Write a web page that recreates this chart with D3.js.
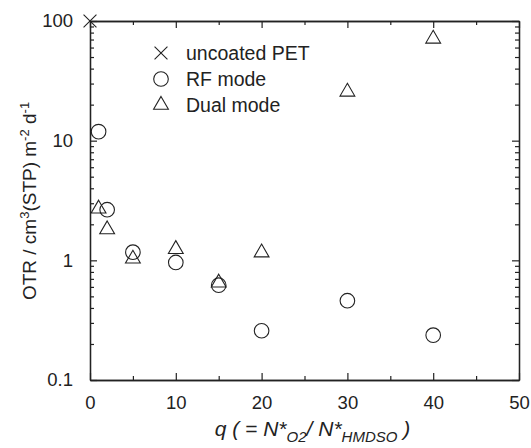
<!DOCTYPE html>
<html>
<head>
<meta charset="utf-8">
<script src="https://cdn.jsdelivr.net/npm/d3@7"></script>
<style>
  body { margin: 0; background: #fff; }
  svg text { font-family: "Liberation Sans", Arial, sans-serif; fill: #222; }
</style>
</head>
<body>
<div id="chart"></div>
<script>
// data
var petQ = [0];
var petOTR = [100];

var rfQ = [1, 2, 5, 10, 15, 20, 30, 40];
var rfOTR = [11.9, 2.65, 1.17, 0.96, 0.62, 0.258, 0.46, 0.237];

var dualQ = [1, 2, 5, 10, 15, 20, 30, 40];
var dualOTR = [2.7, 1.81, 1.03, 1.24, 0.65, 1.16, 25.6, 71];

var xTicks = [0, 10, 20, 30, 40, 50];
var yTicks = [0.1, 1, 10, 100];

var legendNames = ["uncoated PET", "RF mode", "Dual mode"];

var full_width = 531, full_height = 448;
var margin = {top: 21, right: 12, bottom: 68, left: 90};
var width = full_width - margin.left - margin.right;
var height = full_height - margin.top - margin.bottom;

var svg = d3.select("#chart").append("svg")
    .attr("width", full_width)
    .attr("height", full_height);

var g = svg.append("g")
    .attr("transform", "translate(" + margin.left + "," + margin.top + ")");

var x = d3.scaleLinear().domain([0, 50]).range([0, width]);
var y = d3.scaleLog().domain([0.1, 100]).range([height, 0]);

// minor ticks
var xMinor = d3.range(5, 50, 10);
var yMinor = [];
yTicks.slice(0, 3).forEach(function(d) {
  for (var k = 2; k <= 9; k++) yMinor.push(d * k);
});

var axisColor = "#222";

function drawAxis(axis, cls, transform) {
  var a = g.append("g").attr("class", cls).attr("transform", transform).call(axis);
  a.select(".domain").attr("stroke", axisColor).attr("stroke-width", 1.3);
  a.selectAll(".tick line").attr("stroke", axisColor).attr("stroke-width", 1.2);
  return a;
}

// bottom
var xb = drawAxis(d3.axisBottom(x).tickValues(xTicks).tickSize(-7).tickPadding(16).tickSizeOuter(0)
    .tickFormat(d3.format("d")), "x_axis", "translate(0," + height + ")");
xb.selectAll("text").attr("font-size", 18.5).attr("fill", "#222");
drawAxis(d3.axisBottom(x).tickValues(xMinor).tickSize(-4).tickFormat("").tickSizeOuter(0),
    "x_minor", "translate(0," + height + ")");

// top
drawAxis(d3.axisTop(x).tickValues(xTicks).tickSize(-7).tickFormat("").tickSizeOuter(0), "x_top", "");
drawAxis(d3.axisTop(x).tickValues(xMinor).tickSize(-4).tickFormat("").tickSizeOuter(0), "x_top_minor", "");

// left
var yl = drawAxis(d3.axisLeft(y).tickValues(yTicks).tickSize(-7).tickPadding(17).tickSizeOuter(0)
    .tickFormat(function(d) { return d; }), "y_axis", "");
yl.selectAll("text").attr("font-size", 18.5).attr("fill", "#222");
drawAxis(d3.axisLeft(y).tickValues(yMinor).tickSize(-4).tickFormat("").tickSizeOuter(0), "y_minor", "");

// right
drawAxis(d3.axisRight(y).tickValues(yTicks).tickSize(-7).tickFormat("").tickSizeOuter(0),
    "y_right", "translate(" + width + ",0)");
drawAxis(d3.axisRight(y).tickValues(yMinor).tickSize(-4).tickFormat("").tickSizeOuter(0),
    "y_right_minor", "translate(" + width + ",0)");

// markers
var cross = d3.symbol().type(d3.symbolX).size(110);
var tri = d3.symbol().type(d3.symbolTriangle).size(95);

function markers(sel, qs, vals, kind) {
  var data = qs.map(function(q, i) { return {q: q, v: vals[i]}; });
  var m = g.append("g").selectAll("." + kind).data(data).enter();
  if (kind === "circle") {
    m.append("circle")
      .attr("cx", function(d) { return x(d.q); })
      .attr("cy", function(d) { return y(d.v); })
      .attr("r", 7.3)
      .attr("fill", "none").attr("stroke", "#222").attr("stroke-width", 1.1);
  } else {
    m.append("path")
      .attr("d", kind === "cross" ? cross : tri)
      .attr("transform", function(d) { return "translate(" + x(d.q) + "," + y(d.v) + ")"; })
      .attr("fill", "none").attr("stroke", "#222").attr("stroke-width", 1.1);
  }
}

markers(g, dualQ, dualOTR, "tri");
markers(g, rfQ, rfOTR, "circle");
markers(g, petQ, petOTR, "cross");

// legend
var lg = g.append("g").attr("transform", "translate(71,32)");
legendNames.forEach(function(name, i) {
  var row = lg.append("g").attr("transform", "translate(0," + (i * 26) + ")");
  if (i === 1) {
    row.append("circle").attr("r", 7.3).attr("fill", "none").attr("stroke", "#222").attr("stroke-width", 1.1);
  } else {
    row.append("path").attr("d", i === 0 ? cross : tri)
      .attr("fill", "none").attr("stroke", "#222").attr("stroke-width", 1.1);
  }
  row.append("text").attr("x", 25).attr("y", 7).attr("font-size", 19.5).text(name);
});

// y title
var yt = svg.append("text")
    .attr("transform", "translate(36,201) rotate(-90)")
    .attr("text-anchor", "middle")
    .attr("font-size", 19);
yt.append("tspan").text("OTR / cm");
yt.append("tspan").attr("dy", -7).attr("font-size", 13).text("3");
yt.append("tspan").attr("dy", 7).text("(STP) m");
yt.append("tspan").attr("dy", -7).attr("font-size", 13).text("-2");
yt.append("tspan").attr("dy", 7).text(" d");
yt.append("tspan").attr("dy", -7).attr("font-size", 13).text("-1");

// x title
var xt = svg.append("text")
    .attr("x", margin.left + width / 2 + 8)
    .attr("y", 436)
    .attr("text-anchor", "middle")
    .attr("font-size", 21)
    .attr("font-style", "italic");
xt.append("tspan").text("q ( = N*");
xt.append("tspan").attr("dy", 6).attr("font-size", 15).text("O2");
xt.append("tspan").attr("dy", -6).text("/ N*");
xt.append("tspan").attr("dy", 6).attr("font-size", 15).text("HMDSO");
xt.append("tspan").attr("dy", -6).text(" )");
</script>
</body>
</html>
